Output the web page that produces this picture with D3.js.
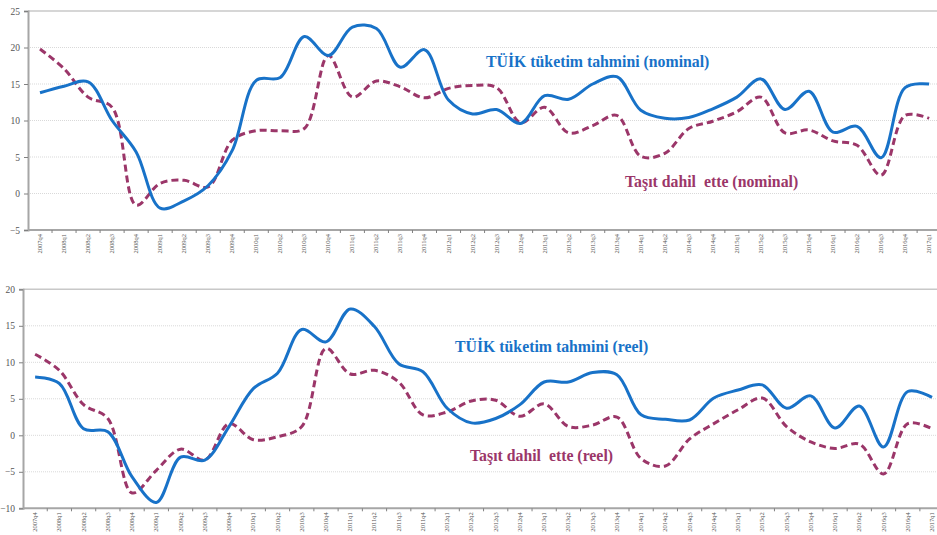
<!DOCTYPE html>
<html>
<head>
<meta charset="utf-8">
<script src="https://cdn.jsdelivr.net/npm/d3@7"></script>
<style>
  html, body { margin: 0; padding: 0; background: #fff; }
  svg { display: block; }
  .note { white-space: pre; }
</style>
</head>
<body>
<div id="chart"></div>
<script>
// quarters 2007q4 .. 2017q1
const quarters = [
  '2007q4',
  '2008q1','2008q2','2008q3','2008q4',
  '2009q1','2009q2','2009q3','2009q4',
  '2010q1','2010q2','2010q3','2010q4',
  '2011q1','2011q2','2011q3','2011q4',
  '2012q1','2012q2','2012q3','2012q4',
  '2013q1','2013q2','2013q3','2013q4',
  '2014q1','2014q2','2014q3','2014q4',
  '2015q1','2015q2','2015q3','2015q4',
  '2016q1','2016q2','2016q3','2016q4',
  '2017q1'
];

// top panel: nominal
const tuikNominal = [
  13.8, 14.7, 15.3, 10.0, 5.7, -2.0, -1.0, 1.1, 5.9, 15.5,
  15.9, 21.5, 18.9, 22.8, 22.6, 17.3, 19.7, 12.8, 10.9, 11.5,
  9.6, 13.4, 12.9, 15.0, 16.0, 11.4, 10.3, 10.4, 11.6, 13.2,
  15.7, 11.5, 14.0, 8.4, 9.2, 4.9, 14.5, 15.0
];
const tasitNominal = [
  19.8, 17.1, 13.2, 11.8, -1.6, 1.4, 1.8, 0.9, 7.3, 8.6,
  8.6, 8.9, 18.9, 13.2, 15.4, 14.6, 13.1, 14.4, 14.8, 14.5,
  9.7, 11.8, 8.3, 9.3, 10.7, 5.1, 5.5, 8.9, 9.9, 11.2,
  13.2, 8.3, 8.7, 7.2, 6.6, 2.5, 10.7, 10.3
];

// bottom panel: real
const tuikReel = [
  8.0, 7.1, 0.9, 0.5, -5.7, -9.2, -3.0, -3.4, 1.2, 6.4,
  8.5, 14.5, 12.8, 17.3, 14.9, 9.8, 8.7, 3.7, 1.7, 2.3,
  4.2, 7.3, 7.3, 8.6, 8.3, 2.8, 2.2, 2.1, 5.1, 6.2,
  6.9, 3.7, 5.4, 1.0, 4.0, -1.6, 6.0, 5.2
];
const tasitReel = [
  11.1, 8.9, 4.2, 2.3, -7.9, -4.8, -1.9, -3.4, 1.6, -0.6,
  -0.2, 1.2, 11.9, 8.4, 8.9, 7.3, 2.8, 3.2, 4.7, 4.8,
  2.6, 4.3, 1.2, 1.4, 2.5, -3.2, -4.2, -0.5, 1.6, 3.5,
  5.1, 1.2, -0.9, -1.8, -1.2, -5.3, 1.6, 0.9
];

const topTicks = [-5, 0, 5, 10, 15, 20, 25];
const bottomTicks = [-10, -5, 0, 5, 10, 15, 20];

const blue = '#1872c8';
const plum = '#9b3669';
const width = 937, height = 535;

const svg = d3.select('#chart').append('svg')
  .attr('width', width).attr('height', height);

function drawPanel(opt) {
  const g = svg.append('g');
  const x = d3.scaleBand().domain(quarters).range([opt.left, opt.left + quarters.length * opt.band]);
  const y = d3.scaleLinear().domain(opt.domain).range([opt.bottom, opt.top]);
  const right = width;

  // gridlines, the top one solid
  g.selectAll('.grid').data(opt.ticks.slice(1)).enter().append('line')
    .attr('x1', opt.left).attr('x2', right)
    .attr('y1', d => y(d)).attr('y2', d => y(d))
    .attr('stroke', (d, i) => i === opt.ticks.length - 2 ? '#c8c8c8' : '#d9d9d9')
    .attr('stroke-width', (d, i) => i === opt.ticks.length - 2 ? 1.5 : 1)
    .attr('stroke-dasharray', (d, i) => i === opt.ticks.length - 2 ? null : '1,1');

  // y axis
  const yAxis = g.append('g')
    .attr('transform', `translate(${opt.left},0)`)
    .call(d3.axisLeft(y).tickValues(opt.ticks).tickSize(4).tickPadding(4));
  yAxis.select('.domain').attr('stroke', '#a6a6a6').attr('stroke-width', 2);
  yAxis.selectAll('.tick line').attr('stroke', '#808080');
  yAxis.selectAll('text')
    .attr('font-family', 'Liberation Serif, serif')
    .attr('font-size', 9.5).attr('fill', '#555');

  // x axis
  const xAxis = g.append('g')
    .attr('transform', `translate(0,${opt.bottom})`);
  xAxis.append('line')
    .attr('x1', opt.left).attr('x2', right)
    .attr('stroke', '#a6a6a6').attr('stroke-width', 2);
  xAxis.selectAll('.xt').data(quarters.slice(1)).enter().append('line')
    .attr('x1', d => x(d)).attr('x2', d => x(d))
    .attr('y1', 0).attr('y2', 3)
    .attr('stroke', '#808080');
  xAxis.selectAll('.xl').data(quarters).enter().append('text')
    .attr('transform', d => `translate(${x(d) + x.bandwidth() / 2 + 2},4) rotate(-90)`)
    .attr('text-anchor', 'end')
    .attr('font-family', 'Liberation Serif, serif')
    .attr('font-size', 6.5)
    .attr('fill', '#555')
    .text(d => d);

  const line = d3.line()
    .x((d, i) => x(quarters[i]) + x.bandwidth() / 2)
    .y(d => y(d))
    .curve(d3.curveCatmullRom.alpha(0.5));

  g.append('path').datum(opt.tasit)
    .attr('d', line).attr('fill', 'none')
    .attr('stroke', plum).attr('stroke-width', 3)
    .attr('stroke-dasharray', '7,4');

  g.append('path').datum(opt.tuik)
    .attr('d', line).attr('fill', 'none')
    .attr('stroke', blue).attr('stroke-width', 3);

  // in-chart series names
  opt.labels.forEach(l => {
    g.append('text')
      .attr('class', 'note')
      .attr('x', l.x).attr('y', l.y)
      .attr('font-family', 'Liberation Serif, serif')
      .attr('font-weight', 'bold')
      .attr('font-size', 15.8)
      .attr('fill', l.color)
      .text(l.text);
  });
}

drawPanel({
  left: 28, band: 24.03, top: 11, bottom: 230,
  domain: [-5, 25], ticks: topTicks,
  tuik: tuikNominal, tasit: tasitNominal,
  labels: [
    { text: 'TÜİK tüketim tahmini (nominal)', x: 486, y: 67, color: blue },
    { text: 'Taşıt dahil  ette (nominal)', x: 625, y: 187, color: plum }
  ]
});

drawPanel({
  left: 23, band: 24.24, top: 289.3, bottom: 508.3,
  domain: [-10, 20], ticks: bottomTicks,
  tuik: tuikReel, tasit: tasitReel,
  labels: [
    { text: 'TÜİK tüketim tahmini (reel)', x: 455, y: 352, color: blue },
    { text: 'Taşıt dahil  ette (reel)', x: 470, y: 461, color: plum }
  ]
});
</script>
</body>
</html>
